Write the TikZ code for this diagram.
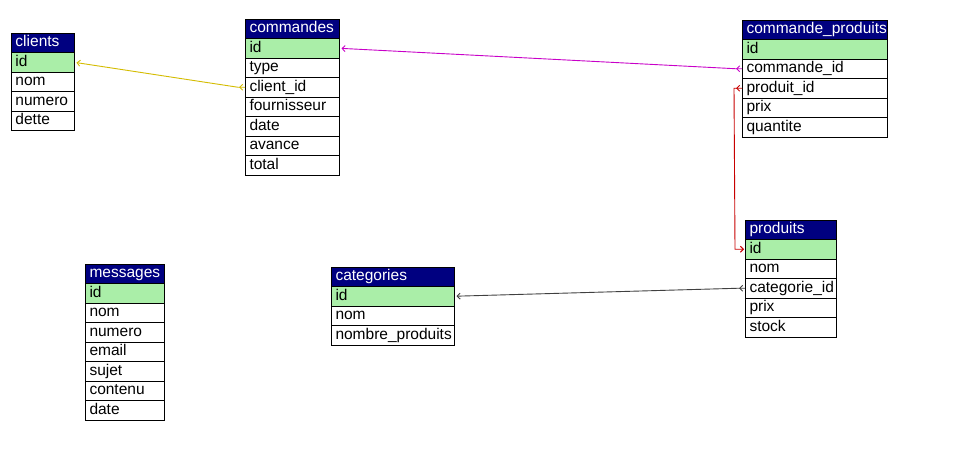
\documentclass[tikz,border=0pt]{standalone}
\usepackage{fontspec}
\setmainfont{Liberation Sans}
\usetikzlibrary{arrows.meta,decorations.markings,calc}
\definecolor{navy}{HTML}{000080}
\definecolor{pkgreen}{HTML}{AAEEA8}
\definecolor{cyel}{HTML}{D4BC00}
\definecolor{cmag}{HTML}{C800C8}
\definecolor{cred}{HTML}{C80000}
\definecolor{cgray}{HTML}{404040}
\tikzset{
 cell/.style={draw=black, line width=0.9pt, anchor=north west, minimum height=19.5pt,
   outer sep=0pt, inner xsep=4.5pt, inner ysep=0pt, text height=11.5pt, text depth=3.5pt,
   font=\fontsize{15.5}{18}\selectfont, align=left},
 hdr/.style={cell, fill=navy, text=white},
 pkrow/.style={cell, fill=pkgreen},
 fldrow/.style={cell, fill=white},
 fkline/.style={line width=0.9pt, -{Straight Barb[length=3pt,width=6pt]}, shorten >=2.5pt,
   postaction={decorate}, decoration={markings, mark=at position 6pt with {\arrow{Straight Barb[length=3pt,width=6pt]}}}},
}
\newcommand\erdtab[5]{%
  \pgfmathsetmacro\tw{#3-9}%
  \node[hdr, text width=\tw pt] (#1-0) at #2 {\mbox{#4}};
  \foreach \t [count=\i] in {#5} {%
    \pgfmathtruncatemacro\j{\i-1}%
    \ifnum\i=1
      \node[pkrow, text width=\tw pt] (#1-\i) at (#1-\j.south west) {\mbox{\t}};
    \else
      \node[fldrow, text width=\tw pt] (#1-\i) at (#1-\j.south west) {\mbox{\t}};
    \fi
  }%
}
\begin{document}
\begin{tikzpicture}[x=1pt,y=-1pt]
\useasboundingbox[fill=white] (0,0) rectangle (979,461);
\erdtab{cli}{(11,33)}{63}{clients}{id,nom,numero,dette}
\erdtab{cmd}{(245,19)}{94}{commandes}{id,type,client\_id,fournisseur,date,avance,total}
\erdtab{cp}{(742,20)}{145}{commande\_produits}{id,commande\_id,produit\_id,prix,quantite}
\erdtab{pr}{(745,220)}{91}{produits}{id,nom,categorie\_id,prix,stock}
\erdtab{cat}{(331,267)}{123}{categories}{id,nom,nombre\_produits}
\erdtab{msg}{(85,264)}{79}{messages}{id,nom,numero,email,sujet,contenu,date}

\draw[cyel, fkline] (cmd-3.west) -- ++(-7,0) -- (cli-1.east);
\draw[cmag, fkline] (cp-2.west) -- ++(-6,0) -- (cmd-1.east);
\draw[cred, fkline, shorten >=1pt] (cp-3.west) -- ++(-8,0) -- ($(pr-1.west)+(-10,0)$) -- (pr-1.west);
\draw[cgray, fkline] (pr-3.west) -- ++(-7,0) -- (cat-1.east);
\end{tikzpicture}
\end{document}
